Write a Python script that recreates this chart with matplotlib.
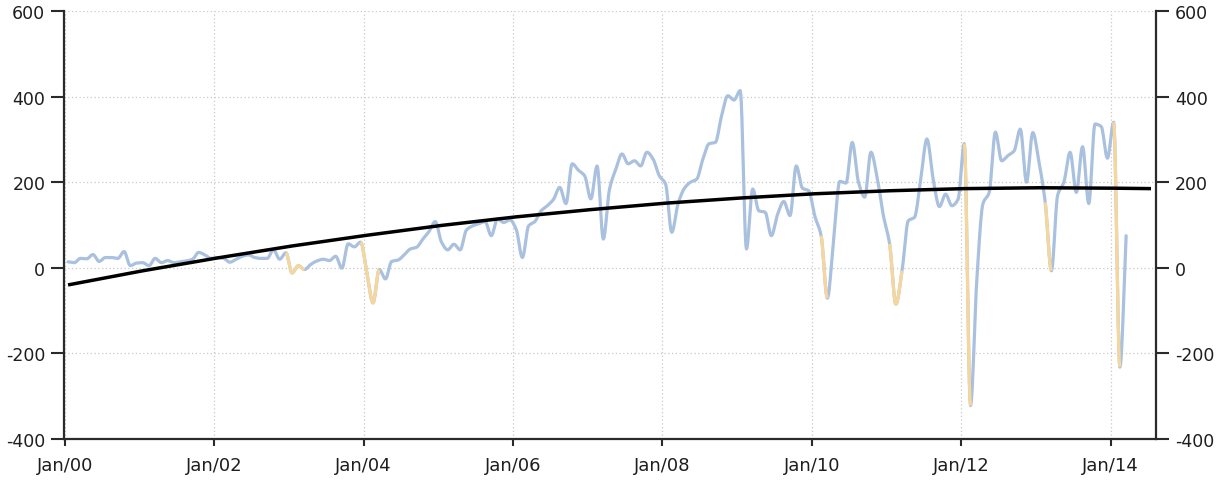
import numpy as np
import matplotlib
matplotlib.use("Agg")
import matplotlib.pyplot as plt

plt.rcParams['axes.unicode_minus'] = False
plt.rcParams['font.family'] = ['DejaVu Sans']

# Monthly values, Jan 2000 .. Mar 2014
values = [
    14, 12, 22, 21, 31, 15, 24, 24, 22, 38, 5, 11,            # 2000
    12, 5, 22, 12, 17, 12, 14, 16, 20, 36, 30, 22,            # 2001
    24, 22, 13, 20, 27, 30, 24, 22, 22, 42, 20, 35,           # 2002
    -12, 5, -4, 8, 16, 20, 17, 27, -1, 56, 49, 60,            # 2003
    -10, -82, -4, -26, 15, 18, 30, 44, 48, 67, 85, 108,       # 2004
    60, 42, 55, 42, 88, 98, 103, 108, 75, 114, 106, 112,      # 2005
    90, 24, 98, 108, 133, 145, 160, 188, 150, 243, 228, 215,  # 2006
    161, 238, 67, 184, 230, 266, 243, 250, 238, 270, 254, 215,  # 2007
    196, 83, 149, 185, 200, 207, 254, 290, 293, 355, 402, 392,  # 2008
    414, 44, 184, 133, 130, 75, 125, 155, 122, 238, 186, 180,   # 2009
    120, 75, -71, 67, 202, 198, 293, 200, 165, 270, 211, 122,   # 2010
    56, -85, -7, 110, 118, 207, 301, 207, 143, 172, 145, 160,   # 2011
    290, -322, -30, 150, 176, 317, 250, 262, 273, 324, 200, 316,  # 2012
    247, 153, -7, 170, 200, 270, 176, 283, 150, 336, 330, 256,    # 2013
    340, -232, 75,                                                # 2014
]
highlight_ranges = [(35, 38), (47, 50), (121, 122), (132, 134),
                    (144, 145), (157, 158), (168, 169)]

trend_months = [0, 12, 24, 36, 48, 60, 72, 84, 96, 108, 120, 132, 144, 156, 168, 174]
trend_values = [-40, -7, 23, 51, 76, 99, 119, 136, 151, 163, 173, 180, 185, 187, 186, 185]

tick_months = [0, 24, 48, 72, 96, 120, 144, 168]
tick_labels = ['Jan/00', 'Jan/02', 'Jan/04', 'Jan/06', 'Jan/08', 'Jan/10', 'Jan/12', 'Jan/14']
y_ticks = [-400, -200, 0, 200, 400, 600]


def pchip_segments(x, y, n=12):
    x = np.asarray(x, float)
    y = np.asarray(y, float)
    h = np.diff(x)
    delta = np.diff(y) / h
    d = np.zeros_like(y)
    for k in range(1, len(y) - 1):
        if delta[k - 1] * delta[k] <= 0:
            d[k] = 0.0
        else:
            w1 = 2 * h[k] + h[k - 1]
            w2 = h[k] + 2 * h[k - 1]
            d[k] = (w1 + w2) / (w1 / delta[k - 1] + w2 / delta[k])
    d[0] = delta[0]
    d[-1] = delta[-1]
    segs = []
    t = np.linspace(0, 1, n)
    for k in range(len(y) - 1):
        h00 = 2 * t**3 - 3 * t**2 + 1
        h10 = t**3 - 2 * t**2 + t
        h01 = -2 * t**3 + 3 * t**2
        h11 = t**3 - t**2
        xs = x[k] + t * h[k]
        ys = h00 * y[k] + h10 * h[k] * d[k] + h01 * y[k + 1] + h11 * h[k] * d[k + 1]
        segs.append((xs, ys))
    return segs


xm = np.arange(len(values)) + 0.5
segs = pchip_segments(xm, values)

W, H = 1221, 481
fig = plt.figure(figsize=(W / 100, H / 100), dpi=100)
ax = fig.add_axes([64 / W, (H - 440) / H, (1156 - 64) / W, (440 - 12) / H])

blue = '#a9c0df'
orange = '#f5d79e'

allx = np.concatenate([s[0] for s in segs])
ally = np.concatenate([s[1] for s in segs])
ax.plot(allx, ally, color=blue, lw=2.3, solid_joinstyle='round', solid_capstyle='round', zorder=2)
for a, b in highlight_ranges:
    hx = np.concatenate([segs[k][0] for k in range(a, b)])
    hy = np.concatenate([segs[k][1] for k in range(a, b)])
    ax.plot(hx, hy, color=orange, lw=2.3, solid_capstyle='butt', zorder=3)

ax.plot(np.array(trend_months) + 0.5, trend_values, color='black', lw=2.5,
        solid_capstyle='butt', zorder=4)

ax.set_xlim(-0.15, 175.3)
ax.set_ylim(-400, 600)
ax.set_xticks(tick_months)
ax.set_xticklabels(tick_labels)
ax.set_yticks(y_ticks)
ax.set_yticklabels([str(v) for v in y_ticks])

ax.set_axisbelow(True)
ax.grid(True, linestyle=(0, (1, 2)), color='#c8c8c8', linewidth=0.9)

spine_color = '#2a2a2a'
for side in ['top', 'right']:
    ax.spines[side].set_visible(False)
for side in ['left', 'bottom']:
    ax.spines[side].set_color(spine_color)
    ax.spines[side].set_linewidth(1.6)

ax.tick_params(axis='y', direction='out', length=9.5, width=1.5, color=spine_color,
               pad=4, labelsize=12.5, labelcolor='#1e1e1e')
ax.tick_params(axis='x', direction='out', length=5, width=1.5, color=spine_color,
               pad=7, labelsize=13, labelcolor='#1e1e1e')

ax2 = ax.twinx()
ax2.set_ylim(-400, 600)
ax2.set_yticks(y_ticks)
ax2.set_yticklabels([str(v) for v in y_ticks])
for side in ['top', 'left', 'bottom']:
    ax2.spines[side].set_visible(False)
ax2.spines['right'].set_color(spine_color)
ax2.spines['right'].set_linewidth(1.6)
ax2.tick_params(axis='y', direction='out', length=9.5, width=1.5, color=spine_color,
                pad=4, labelsize=12.5, labelcolor='#1e1e1e')

fig.savefig('out.png', dpi=100)
